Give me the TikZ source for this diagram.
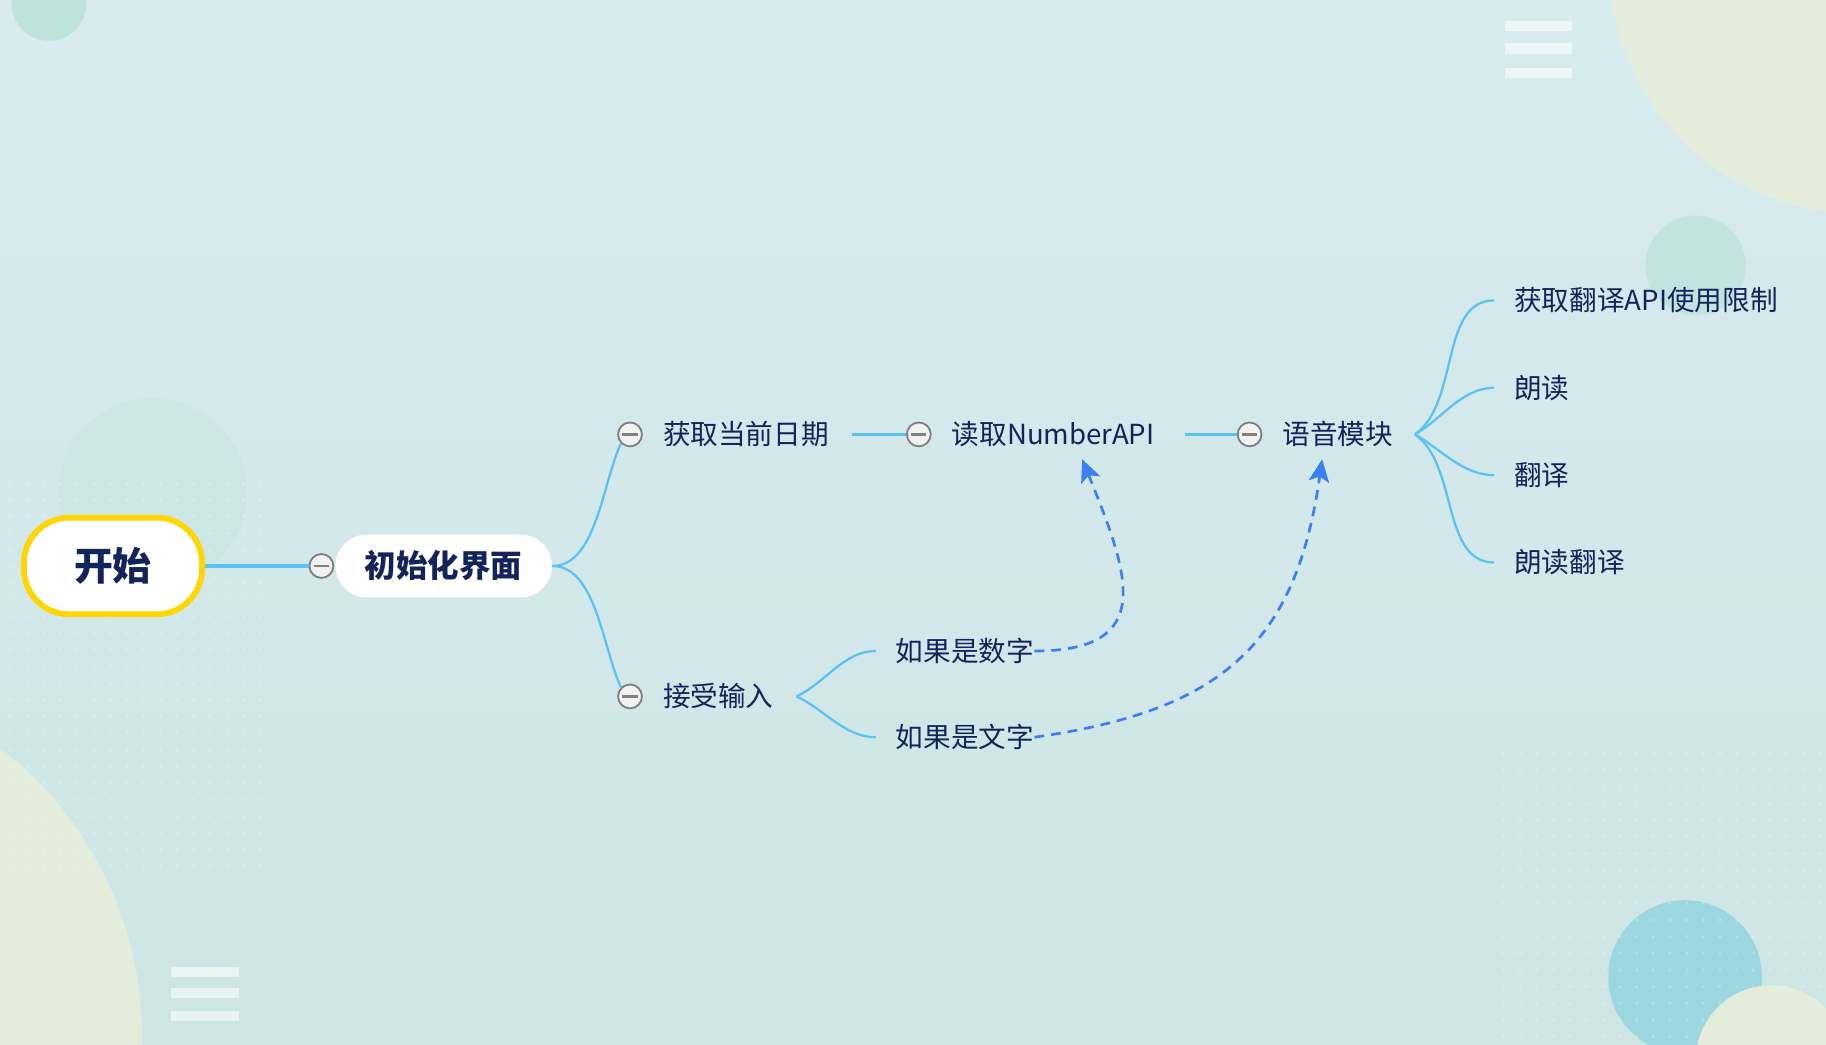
\documentclass[tikz,border=0pt]{standalone}
\usepackage{fontspec}
\setmainfont{Noto Sans CJK SC}
\usetikzlibrary{arrows.meta}

\definecolor{bgtop}{RGB}{216,235,239}
\definecolor{bgbottom}{RGB}{205,229,229}
\definecolor{mint}{RGB}{190,226,220}
\definecolor{paleyellow}{RGB}{228,237,219}
\definecolor{teal}{RGB}{156,215,223}
\definecolor{lineblue}{RGB}{91,194,242}
\definecolor{dashblue}{RGB}{58,128,240}
\definecolor{navy}{RGB}{19,36,90}
\definecolor{gold}{RGB}{255,214,0}
\definecolor{foldgray}{RGB}{128,128,128}

\begin{document}
\begin{tikzpicture}[x=0.02cm,y=-0.02cm,>={Stealth[length=11pt,width=10pt,inset=2.5pt]},
  branch/.style={draw=lineblue,line width=1.1pt},
  jump/.style={draw=dashblue,line width=1.3pt,dash pattern=on 4.8pt off 3.4pt,->},
  fold/.style={circle,draw=foldgray,fill=white!90!gray,line width=0.9pt,
    minimum size=0.41cm,inner sep=0pt,
    path picture={\draw[foldgray,line width=1.1pt]
      ([xshift=-0.13cm]path picture bounding box.center) --
      ([xshift=0.13cm]path picture bounding box.center);}},
  topic/.style={anchor=west,inner sep=0pt,text=navy,font=\fontsize{13.5}{16}\selectfont},
  bars/.style={white,opacity=0.55},
  dot/.style={white,opacity=0.22}]

\useasboundingbox (0,0) rectangle (1568,897);
\shade[top color=bgtop,bottom color=bgbottom] (0,0) rectangle (1568,897);

% decorations
\fill[mint] (42,3) circle (32);
\fill[paleyellow] (1595,-30) circle (213);
\fill[mint,opacity=0.8] (1456,228) circle (43);
\fill[mint,opacity=0.3] (131,423) circle (81);
\fill[paleyellow] (-190,890) circle (312);
\fill[teal] (1447,839) circle (66);
\foreach \x in {9,23.3,...,236}
  \foreach \y in {415,429.3,...,748}
    \fill[dot] (\x,\y) circle (1.6);
\foreach \x in {1291,1305.3,...,1568}
  \foreach \y in {647,661.3,...,897}
    \fill[dot] (\x,\y) circle (1.6);
\fill[paleyellow] (1521,911) circle (65);
\fill[bars] (1292,18) rectangle (1350,27);
\fill[bars] (1292,37) rectangle (1350,46);
\fill[bars] (1292,58) rectangle (1350,67);
\fill[bars] (147,830) rectangle (205,839);
\fill[bars] (147,848) rectangle (205,857);
\fill[bars] (147,868) rectangle (205,877);

% nodes
\node[draw=gold,fill=white,line width=2.8pt,rounded corners=0.78cm,
  minimum width=3.06cm,minimum height=1.66cm,text=navy,
  font=\fontsize{19}{22}\bfseries\selectfont] (start) at (97,486) {开始};
\node[fold] (f0) at (276,486) {};
\node[fill=white,rounded corners=0.54cm,minimum width=3.72cm,minimum height=1.08cm,
  text=navy,font=\fontsize{15.4}{18}\bfseries\selectfont] (init) at (381,486) {初始化界面};

\node[fold] (f1) at (541,373) {};
\node[topic] (date) at (569,373) {获取当前日期};
\node[fold] (f2) at (789,373) {};
\node[topic] (api) at (817,373) {读取NumberAPI};
\node[fold] (f3) at (1073,373) {};
\node[topic] (voice) at (1101,373) {语音模块};

\node[topic] (limit) at (1300,258) {获取翻译API使用限制};
\node[topic] (read) at (1300,333) {朗读};
\node[topic] (trans) at (1300,408) {翻译};
\node[topic] (readtrans) at (1300,483) {朗读翻译};

\node[fold] (f4) at (541,598) {};
\node[topic] (input) at (569,598) {接受输入};
\node[topic] (isnum) at (769,559) {如果是数字};
\node[topic] (istext) at (769,633) {如果是文字};

\coordinate (hubv) at (1215,373);
\coordinate (hubi) at (684,598);
\coordinate (tipa) at ([xshift=0.5cm,yshift=-0.2cm]api.south);
\coordinate (tipb) at ([xshift=-0.27cm,yshift=-0.2cm]voice.south);

% connectors
\draw[draw=lineblue,line width=2pt] (start) -- (f0);
\path[branch] (init.east) edge[out=0,in=245,looseness=0.8] (f1.south west)
              (init.east) edge[out=0,in=115,looseness=0.8] (f4.north west);
\draw[branch] (date.east) ++(20,0) -- (f2);
\draw[branch] (api.east) ++(26,0) -- (f3);
\path[branch] (hubv) edge[out=35,in=180,looseness=0.9] ([xshift=-0.34cm]limit.west)
              (hubv) edge[out=30,in=180,looseness=0.9] ([xshift=-0.34cm]read.west)
              (hubv) edge[out=-30,in=180,looseness=0.9] ([xshift=-0.34cm]trans.west)
              (hubv) edge[out=-35,in=180,looseness=0.9] ([xshift=-0.34cm]readtrans.west);
\path[branch] (hubi) edge[out=25,in=180,looseness=0.9] ([xshift=-0.34cm]isnum.west)
              (hubi) edge[out=-25,in=180,looseness=0.9] ([xshift=-0.34cm]istext.west);

\draw[jump] (isnum.east) to[out=0,in=-68,looseness=1.6] (tipa);
\draw[jump] (istext.east) to[out=8,in=-98,looseness=1.2] (tipb);

\end{tikzpicture}
\end{document}
